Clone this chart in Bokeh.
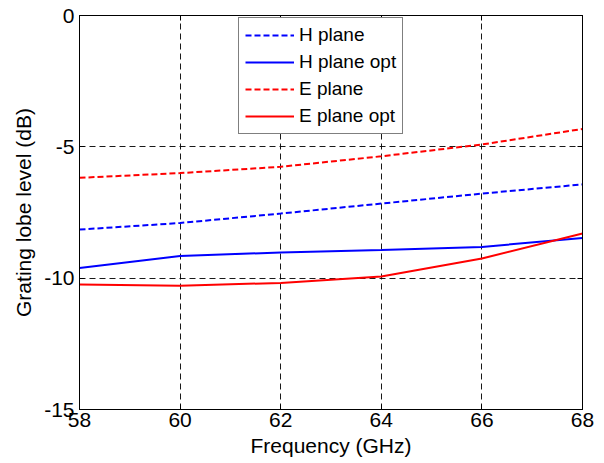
from bokeh.plotting import figure
from bokeh.models import Range1d, FixedTicker, LinearAxis, Legend, LegendItem
from bokeh.embed import file_html
from bokeh.resources import INLINE

freq = [58, 60, 62, 64, 66, 68]
h_plane = [-8.15, -7.9, -7.54, -7.16, -6.78, -6.43]
h_plane_opt = [-9.61, -9.16, -9.02, -8.93, -8.81, -8.47]
e_plane = [-6.18, -6.0, -5.76, -5.36, -4.91, -4.32]
e_plane_opt = [-10.24, -10.29, -10.18, -9.94, -9.25, -8.30]
x_ticks = [58, 60, 62, 64, 66, 68]
y_ticks = [0, -5, -10, -15]
y_tick_labels = {0: "0", -5: "-5", -10: "-10", -15: "-15"}

FONT = "Liberation Sans"

p = figure(width=604, height=463, output_backend="svg", toolbar_location=None,
           x_range=Range1d(58, 68), y_range=Range1d(-15, 0),
           min_border_left=79, min_border_right=22, min_border_top=15, min_border_bottom=54)
p.outline_line_color = "black"
p.outline_line_width = 1

for ax in [p.xaxis[0], p.yaxis[0]]:
    ax.major_tick_in = 5
    ax.major_tick_out = 0
    ax.minor_tick_in = 0
    ax.minor_tick_out = 0
    ax.axis_line_color = "black"
    ax.major_tick_line_color = "black"
    ax.major_label_text_font = FONT
    ax.major_label_text_font_size = "21px"
    ax.major_label_text_color = "black"
    ax.axis_label_text_font = FONT
    ax.axis_label_text_font_size = "21px"
    ax.axis_label_text_font_style = "normal"
    ax.axis_label_text_color = "black"

p.xaxis.ticker = FixedTicker(ticks=x_ticks)
p.yaxis.ticker = FixedTicker(ticks=y_ticks)
p.yaxis.major_label_overrides = y_tick_labels
p.xaxis.axis_label = "Frequency (GHz)"
p.yaxis.axis_label = "Grating lobe level (dB)"
p.xaxis.major_label_standoff = 3
p.yaxis.major_label_standoff = 5
p.xaxis.axis_label_standoff = 4
p.yaxis.axis_label_standoff = 6

# mirrored axes (ticks only, no labels)
top = LinearAxis(ticker=FixedTicker(ticks=x_ticks),
                 major_label_overrides={t: "" for t in x_ticks},
                 major_tick_in=5, major_tick_out=0, minor_tick_in=0, minor_tick_out=0,
                 major_label_standoff=0)
right = LinearAxis(ticker=FixedTicker(ticks=y_ticks),
                   major_label_overrides={t: "" for t in y_ticks},
                   major_tick_in=5, major_tick_out=0, minor_tick_in=0, minor_tick_out=0,
                   major_label_standoff=0)
p.add_layout(top, "above")
p.add_layout(right, "right")

for g in [p.xgrid[0], p.ygrid[0]]:
    g.grid_line_color = "black"
    g.grid_line_dash = "6 4"
    g.grid_line_width = 1
    g.grid_line_alpha = 0.9

r1 = p.line(freq, h_plane, line_color="#0000ff", line_width=2, line_dash="6 3")
r2 = p.line(freq, h_plane_opt, line_color="#0000ff", line_width=2)
r3 = p.line(freq, e_plane, line_color="#ff0000", line_width=2, line_dash="6 3")
r4 = p.line(freq, e_plane_opt, line_color="#ff0000", line_width=2)

legend = Legend(items=[
    LegendItem(label="H plane", renderers=[r1]),
    LegendItem(label="H plane opt", renderers=[r2]),
    LegendItem(label="E plane", renderers=[r3]),
    LegendItem(label="E plane opt", renderers=[r4]),
], location=(159, 275))
legend.label_text_font = FONT
legend.label_text_font_size = "19px"
legend.label_text_color = "black"
legend.glyph_width = 49
legend.glyph_height = 22
legend.label_height = 22
legend.spacing = 5
legend.padding = 6
legend.margin = 0
legend.label_standoff = 5
legend.border_line_color = "black"
legend.border_line_width = 1
legend.background_fill_alpha = 1
p.add_layout(legend, "center")

open("out.html", "w").write(file_html(p, INLINE))
